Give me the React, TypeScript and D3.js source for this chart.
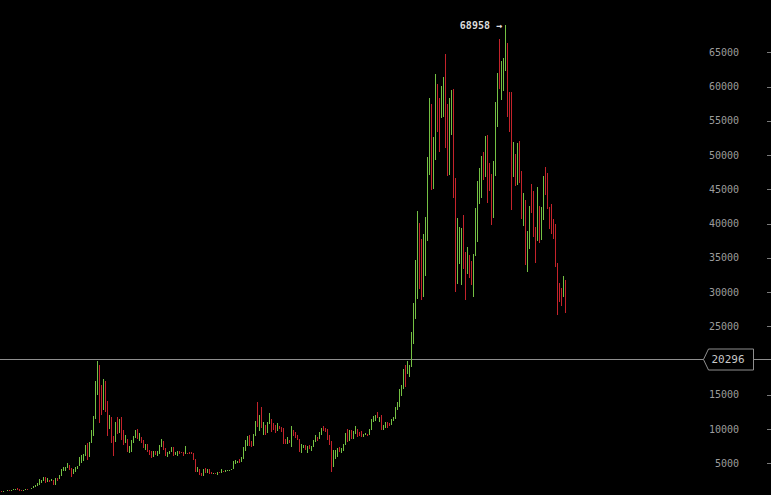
import { useEffect } from 'react'
import * as d3 from 'd3'

const WIDTH = 771
const HEIGHT = 495

// weekly bars, Monday open: [open, high, low, close]
const bars2017: number[][] = [
  [908, 912, 752, 818], [818, 935, 815, 922], [922, 925, 886, 915], [915, 1040, 910, 1015],
  [1015, 1070, 940, 1000], [1000, 1060, 990, 1050], [1050, 1200, 1050, 1150], [1150, 1290, 1140, 1270],
  [1270, 1330, 1100, 1240], [1240, 1250, 950, 965], [965, 1120, 900, 960], [960, 1130, 950, 1120],
  [1120, 1210, 1050, 1200], [1200, 1220, 1160, 1180], [1180, 1260, 1180, 1250], [1250, 1430, 1230, 1420],
  [1420, 1740, 1420, 1720], [1720, 1800, 1550, 1750], [1750, 2100, 1700, 2050], [2050, 2760, 1900, 2190],
  [2190, 2560, 2100, 2500], [2500, 2990, 2470, 2950], [2950, 3000, 2100, 2500], [2500, 2790, 2330, 2590],
  [2590, 2600, 2300, 2500], [2500, 2690, 2480, 2520], [2520, 2540, 1900, 1930], [1930, 2900, 1860, 2750],
  [2750, 2800, 2450, 2720], [2720, 3300, 2650, 3200], [3200, 4200, 3200, 4050], [4050, 4500, 3850, 4100],
  [4100, 4400, 3900, 4350], [4350, 4980, 4300, 4620], [4620, 4700, 4000, 4200], [4200, 4350, 2980, 3700],
  [3700, 4100, 3500, 3780], [3780, 4450, 3750, 4400], [4400, 4620, 4150, 4600], [4600, 5850, 4600, 5700],
  [5700, 6150, 5100, 6000], [6000, 6300, 5400, 6150], [6150, 7600, 6100, 7400], [7400, 7900, 5500, 5950],
  [5950, 8100, 5900, 8000], [8000, 9800, 8000, 9700], [9700, 11900, 9000, 11600], [11600, 17000, 11500, 15100],
  [15100, 19900, 15000, 19100], [19100, 19300, 10900, 14000], [14000, 16500, 12000, 13900],
]

const bars2018: number[][] = [
  [13900, 17300, 12800, 14200], [14200, 17000, 12500, 13600], [13600, 14100, 9050, 11500], [11500, 12000, 10000, 11800],
  [11800, 11800, 8000, 8200], [8200, 9000, 6000, 8100], [8100, 11000, 8100, 10400], [10400, 11800, 9300, 9600],
  [9600, 11500, 9400, 11400], [11400, 11700, 8400, 9500], [9500, 9900, 7700, 8200], [8200, 9100, 8000, 8400],
  [8400, 8500, 6600, 6900], [6900, 7500, 6500, 7000], [7000, 8400, 6600, 8300], [8300, 9000, 7900, 8950],
  [8950, 9800, 8700, 9200], [9200, 9990, 8500, 8600], [8600, 9400, 8300, 8700], [8700, 8800, 7900, 8200],
  [8200, 8400, 7200, 7350], [7350, 7800, 7000, 7700], [7700, 7750, 6700, 6700], [6700, 6900, 6150, 6500],
  [6500, 6800, 5800, 6250], [6250, 6800, 5850, 6700], [6700, 6800, 6250, 6350], [6350, 6800, 6100, 6350],
  [6350, 7700, 6350, 7400], [7400, 8500, 7400, 8200], [8200, 8200, 6900, 7000], [7000, 7200, 6100, 6300],
  [6300, 6600, 5900, 6400], [6400, 6800, 6300, 6700], [6700, 7400, 6600, 7300], [7300, 7400, 6100, 6300],
  [6300, 6600, 6200, 6500], [6500, 6800, 6100, 6700], [6700, 6750, 6400, 6600], [6600, 6700, 6450, 6580],
  [6580, 6700, 6100, 6300], [6300, 7500, 6300, 6500], [6500, 6550, 6380, 6450], [6450, 6600, 6300, 6430],
  [6430, 6600, 6350, 6400], [6400, 6500, 5500, 5600], [5600, 5600, 3800, 4000], [4000, 4400, 3700, 4100],
  [4100, 4200, 3250, 3600], [3600, 3620, 3150, 3250], [3250, 4200, 3200, 3950], [3950, 4250, 3600, 3900],
  [3900, 4100, 3650, 4050],
]

const bars2019: number[][] = [
  [4050, 4100, 3500, 3550], [3550, 3720, 3500, 3530], [3530, 3650, 3500, 3550], [3550, 3600, 3380, 3450],
  [3450, 3700, 3350, 3650], [3650, 3700, 3550, 3620], [3620, 4100, 3600, 3850], [3850, 3900, 3750, 3820],
  [3820, 3980, 3700, 3950], [3950, 4050, 3850, 4000], [4000, 4050, 3900, 4020], [4020, 4150, 3950, 4100],
  [4100, 5300, 4100, 5050], [5050, 5450, 4950, 5100], [5100, 5400, 5000, 5300], [5300, 5650, 5100, 5200],
  [5200, 5950, 5150, 5700], [5700, 7450, 5700, 7000], [7000, 8350, 6800, 8000], [8000, 8950, 7500, 8750],
  [8750, 9100, 7500, 8000], [8000, 8250, 7450, 7800], [7800, 9300, 7500, 8950], [8950, 11200, 8950, 10850],
  [10850, 13900, 10350, 10820], [10820, 12000, 9700, 11450], [11450, 13200, 10100, 10300], [10300, 11100, 9100, 10600],
  [10600, 10650, 9100, 9500], [9500, 11100, 9400, 10800], [10800, 12300, 10800, 11500], [11500, 11500, 9500, 10200],
  [10200, 10950, 9800, 10150], [10150, 10650, 9400, 9750], [9750, 10900, 9750, 10400], [10400, 10450, 9950, 10300],
  [10300, 10350, 9600, 10000], [10000, 10100, 7800, 8050], [8050, 8500, 7800, 7900], [7900, 8800, 7800, 8300],
  [8300, 8400, 7900, 8200], [8200, 10500, 7400, 9550], [9550, 9900, 8950, 9200], [9200, 9500, 8700, 9050],
  [9050, 9100, 8400, 8500], [8500, 8500, 6600, 6900], [6900, 7800, 6550, 7400], [7400, 7700, 7200, 7500],
  [7500, 7650, 7000, 7100], [7100, 7500, 6450, 7500], [7500, 7700, 7100, 7300], [7300, 7500, 6850, 7450],
]

const bars2020: number[][] = [
  [7450, 8450, 7400, 8100], [8100, 9200, 8100, 8700], [8700, 8800, 8250, 8600], [8600, 9600, 8500, 9300],
  [9300, 10200, 9100, 10150], [10150, 10500, 9700, 9900], [9900, 10200, 9500, 9650], [9650, 9950, 8450, 8550],
  [8550, 9200, 7700, 8050], [8050, 8200, 3800, 5350], [5350, 6900, 4450, 5800], [5800, 6950, 5700, 6250],
  [6250, 7300, 5900, 6900], [6900, 7450, 6600, 6650], [6650, 7300, 6500, 7150], [7150, 7750, 6800, 7700],
  [7700, 9450, 7650, 8900], [8900, 10000, 8100, 8700], [8700, 9900, 8200, 9700], [9700, 9900, 8600, 8900],
  [8900, 9700, 8600, 9450], [9450, 10400, 9250, 9700], [9700, 9950, 8900, 9350], [9350, 9600, 9000, 9300],
  [9300, 9750, 8900, 9200], [9200, 9300, 8900, 9250], [9250, 9450, 9100, 9270], [9270, 9300, 9050, 9200],
  [9200, 9950, 9150, 9950], [9950, 11450, 9900, 11200], [11200, 11900, 11000, 11700], [11700, 12100, 11200, 11900],
  [11900, 12450, 11550, 11650], [11650, 11800, 11100, 11700], [11700, 12100, 9900, 10300], [10300, 10600, 9900, 10350],
  [10350, 11100, 10200, 10900], [10900, 11000, 10150, 10750], [10750, 10950, 10400, 10650], [10650, 11500, 10550, 11400],
  [11400, 11700, 11200, 11500], [11500, 13200, 11400, 13000], [13000, 14000, 12800, 13800], [13800, 15900, 13250, 15500],
  [15500, 16500, 14800, 16000], [16000, 18800, 15800, 18400], [18400, 19400, 16200, 18200], [18200, 19900, 18100, 19150],
  [19150, 19400, 17600, 19250], [19250, 24200, 19000, 23700], [23700, 28400, 22400, 26500], [26500, 34700, 26100, 33000],
]

const bars2021: number[][] = [
  [33000, 41900, 29000, 38200], [38200, 40100, 30400, 36000], [36000, 37800, 28800, 32300], [32300, 38500, 29300, 33100],
  [33100, 40900, 32300, 38900], [38900, 49700, 37400, 48600], [48600, 58300, 47100, 57500], [57500, 57500, 44900, 45200],
  [45200, 52600, 45000, 51000], [51000, 61800, 49300, 59000], [59000, 60400, 53300, 57400], [57400, 58400, 50400, 55800],
  [55800, 60100, 55400, 57000], [57000, 61400, 55500, 60000], [60000, 64800, 51100, 56200], [56200, 57500, 47000, 49000],
  [49000, 58400, 47100, 57000], [57000, 59500, 53000, 58200], [58200, 59600, 43800, 46400], [46400, 46600, 30000, 34700],
  [34700, 40800, 31200, 35600], [35600, 39500, 34100, 35800], [35800, 39400, 31100, 39100], [39100, 41300, 33300, 35600],
  [35600, 35800, 28800, 34700], [34700, 36600, 32700, 35300], [35300, 35400, 32100, 34250], [34250, 34600, 31000, 31800],
  [31800, 35500, 29300, 35400], [35400, 42200, 35200, 39900], [39900, 46200, 37300, 44400], [44400, 48100, 42900, 47100],
  [47100, 49900, 43800, 49300], [49300, 50500, 46400, 48800], [48800, 52800, 46800, 51800], [51800, 52900, 43000, 48300],
  [48300, 48800, 44700, 47300], [47300, 47300, 39800, 42700], [42700, 49200, 40800, 48200], [48200, 57800, 46900, 57500],
  [57500, 62000, 54100, 61500], [61500, 67000, 59600, 60900], [60900, 63700, 58000, 61300], [61300, 64200, 59400, 63300],
  [63300, 68958, 62300, 65500], [65500, 66300, 55600, 58600], [58600, 59200, 53300, 57300], [57300, 59200, 42000, 49400],
  [49400, 51900, 46800, 50100], [50100, 50100, 45500, 46700], [46700, 51800, 45600, 50800], [50800, 52100, 45900, 47300],
]

const bars2022: number[][] = [
  [47300, 47600, 40600, 41800], [41800, 44400, 39700, 43100], [43100, 43500, 34000, 36300], [36300, 38900, 32900, 37900],
  [37900, 42600, 36300, 42400], [42400, 45800, 41600, 42200], [42200, 44700, 38000, 38400], [38400, 39500, 34300, 37700],
  [37700, 45400, 37500, 38400], [38400, 42600, 37200, 37800], [37800, 42400, 37600, 41300], [41300, 47000, 40500, 46800],
  [46800, 48200, 44200, 46400], [46400, 47400, 42100, 42150], [42150, 42400, 39200, 39700], [39700, 42900, 38500, 39450],
  [39450, 40700, 37700, 38450], [38450, 40000, 33700, 34050], [34050, 34200, 26700, 31300], [31300, 31300, 28600, 30300],
  [30300, 30550, 28000, 29400], [29400, 32300, 29300, 29900], [29900, 31700, 26900, 27000],
]

// 20000 is hidden behind the last-price tag in the original
const yTicks = [5000, 10000, 15000, 25000, 30000, 35000, 40000, 45000, 50000, 55000, 60000, 65000]
const lastPrice = 20296

const UP = '#74c043'
const DOWN = '#c4232b'
const MONO = '"DejaVu Sans Mono", "Liberation Mono", monospace'

export default function App() {
  useEffect(() => {
    document.body.style.margin = '0'
    document.body.style.background = '#000'
  }, [])

  const bars = [...bars2017, ...bars2018, ...bars2019, ...bars2020, ...bars2021, ...bars2022]

  const x = d3.scaleLinear().domain([0, bars.length - 1]).range([1.5, 565.5])
  const y = d3.scaleLinear().domain([0, 70000]).range([497.55, 18.05])

  const peakIdx = d3.maxIndex(bars, d => d[1])
  const peak = bars[peakIdx][1]
  const yl = Math.round(y(lastPrice)) + 0.5

  return (
    <svg width={WIDTH} height={HEIGHT} style={{ display: 'block', background: '#000' }}>
      <rect width={WIDTH} height={HEIGHT} fill="#000" />

      {/* 价格线 */}
      <line x1={0} x2={WIDTH} y1={yl} y2={yl} stroke="#8f8f8f" strokeWidth={1} />

      {/* OHLC 柱 */}
      <g shapeRendering="crispEdges">
        {bars.map((d, i) => (
          <line
            key={i}
            x1={x(i)}
            x2={x(i)}
            y1={y(d[1])}
            y2={y(d[2])}
            stroke={d[3] >= d[0] ? UP : DOWN}
            strokeWidth={1}
          />
        ))}
      </g>

      {/* Y 轴 */}
      <g fontFamily={MONO} fontSize={10} fill="#9c9c9c">
        {yTicks.map(t => (
          <g key={t}>
            <text x={739} y={y(t)} dy="0.35em" textAnchor="end">{t}</text>
            <line x1={767} x2={771} y1={Math.round(y(t)) + 0.5} y2={Math.round(y(t)) + 0.5} stroke="#7a7a7a" />
          </g>
        ))}
      </g>

      {/* 当前价格标签 */}
      <path
        d={`M703.5,${yl} L708.5,${yl - 10.5} L753.5,${yl - 10.5} L753.5,${yl + 10.5} L708.5,${yl + 10.5} Z`}
        fill="#000"
        stroke="#8f8f8f"
      />
      <text x={728} y={yl} dy="0.36em" textAnchor="middle" fontFamily={MONO} fontSize={11} fill="#c8c8c8">
        {lastPrice}
      </text>

      {/* 最高点 */}
      <text
        x={x(peakIdx) - 3.5}
        y={y(peak)}
        dy="0.35em"
        textAnchor="end"
        fontFamily={MONO}
        fontSize={10}
        fontWeight="bold"
        fill="#dcdcdc"
      >
        {`${peak} →`}
      </text>
    </svg>
  )
}
